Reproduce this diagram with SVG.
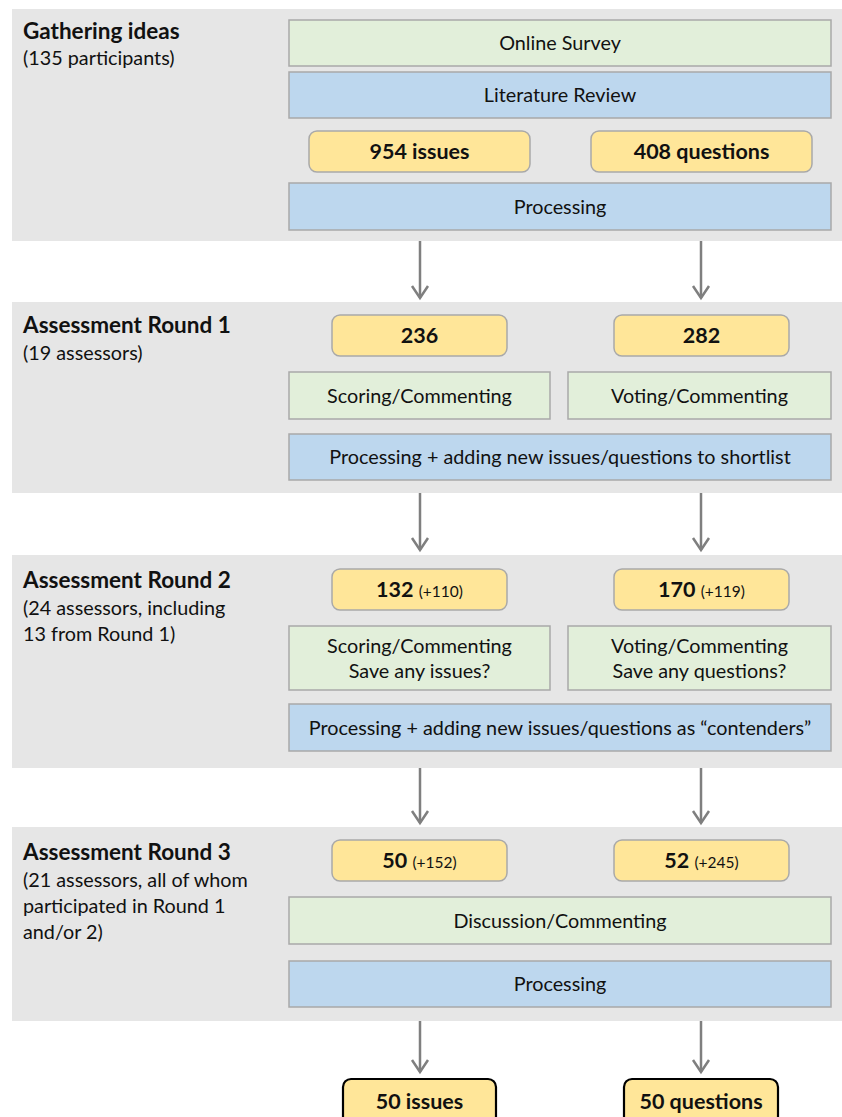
<svg xmlns="http://www.w3.org/2000/svg" width="842" height="1117" viewBox="0 0 842 1117">
<style>
.panel{fill:#e6e6e6}
.g{fill:#e2efda;stroke:#a9a9a9;stroke-width:1.5}
.b{fill:#bdd7ee;stroke:#a9a9a9;stroke-width:1.5}
.y{fill:#ffe699;stroke:#a9a9a9;stroke-width:1.5}
.f{fill:#ffe699;stroke:#000;stroke-width:2.2}
text{font-family:Lato,"Open Sans","Liberation Sans",sans-serif;fill:#111}
.t{font-size:19.8px;text-anchor:middle}
.n{font-size:21.5px;font-weight:bold;text-anchor:middle}
.s{font-size:15.5px;font-weight:normal}
.h{font-size:22.5px;font-weight:bold}
.l{font-size:19.8px}
.conn line{stroke:#7f7f7f;stroke-width:2.5;fill:none}
</style>
<defs>
<marker id="arr" markerUnits="userSpaceOnUse" markerWidth="20" markerHeight="20" refX="13" refY="10" orient="auto" viewBox="0 0 20 20">
<path d="M1,2 L13,10 L1,18" fill="none" stroke="#7f7f7f" stroke-width="2.5"/>
</marker>
</defs>

<g id="panel1">
<rect class="panel" x="12" y="9" width="830" height="232"/>
<text class="h" x="23" y="39">Gathering ideas</text>
<text class="l" x="23" y="65">(135 participants)</text>
</g>
<g id="online-survey"><rect class="g" x="289" y="20" width="542" height="46"/><text class="t" x="560" y="50">Online Survey</text></g>
<g id="literature-review"><rect class="b" x="289" y="72" width="542" height="46"/><text class="t" x="560" y="102">Literature Review</text></g>
<g id="issues-954"><rect class="y" x="309" y="131" width="221" height="41" rx="8"/><text class="n" x="419.5" y="159">954 issues</text></g>
<g id="questions-408"><rect class="y" x="591" y="131" width="221" height="41" rx="8"/><text class="n" x="701.5" y="159">408 questions</text></g>
<g id="processing1"><rect class="b" x="289" y="183" width="542" height="47"/><text class="t" x="560" y="213.5">Processing</text></g>

<g id="panel2">
<rect class="panel" x="12" y="302" width="830" height="191"/>
<text class="h" x="23" y="333">Assessment Round 1</text>
<text class="l" x="23" y="360">(19 assessors)</text>
</g>
<g id="n236"><rect class="y" x="332" y="315" width="175" height="41" rx="8"/><text class="n" x="419.5" y="343">236</text></g>
<g id="n282"><rect class="y" x="614" y="315" width="175" height="41" rx="8"/><text class="n" x="701.5" y="343">282</text></g>
<g id="scoring1"><rect class="g" x="289" y="372" width="261" height="47"/><text class="t" x="419.5" y="402.5">Scoring/Commenting</text></g>
<g id="voting1"><rect class="g" x="568" y="372" width="263" height="47"/><text class="t" x="699.5" y="402.5">Voting/Commenting</text></g>
<g id="processing2"><rect class="b" x="289" y="434" width="542" height="46"/><text class="t" x="560" y="464">Processing + adding new issues/questions to shortlist</text></g>

<g id="panel3">
<rect class="panel" x="12" y="555" width="830" height="213"/>
<text class="h" x="23" y="588">Assessment Round 2</text>
<text class="l" x="23" y="615">(24 assessors, including</text>
<text class="l" x="23" y="641">13 from Round 1)</text>
</g>
<g id="n132"><rect class="y" x="332" y="569" width="175" height="41" rx="8"/><text class="n" x="419.5" y="596.5">132 <tspan class="s">(+110)</tspan></text></g>
<g id="n170"><rect class="y" x="614" y="569" width="175" height="41" rx="8"/><text class="n" x="701.5" y="596.5">170 <tspan class="s">(+119)</tspan></text></g>
<g id="scoring2"><rect class="g" x="289" y="626" width="261" height="64"/><text class="t" x="419.5" y="653">Scoring/Commenting</text><text class="t" x="419.5" y="678">Save any issues?</text></g>
<g id="voting2"><rect class="g" x="568" y="626" width="263" height="64"/><text class="t" x="699.5" y="653">Voting/Commenting</text><text class="t" x="699.5" y="678">Save any questions?</text></g>
<g id="processing3"><rect class="b" x="289" y="704" width="542" height="47"/><text class="t" x="560" y="734.5">Processing + adding new issues/questions as “contenders”</text></g>

<g id="panel4">
<rect class="panel" x="12" y="827" width="830" height="194"/>
<text class="h" x="23" y="860">Assessment Round 3</text>
<text class="l" x="23" y="887">(21 assessors, all of whom</text>
<text class="l" x="23" y="913">participated in Round 1</text>
<text class="l" x="23" y="939">and/or 2)</text>
</g>
<g id="n50"><rect class="y" x="332" y="840" width="175" height="41" rx="8"/><text class="n" x="419.5" y="868">50 <tspan class="s">(+152)</tspan></text></g>
<g id="n52"><rect class="y" x="614" y="840" width="175" height="41" rx="8"/><text class="n" x="701.5" y="868">52 <tspan class="s">(+245)</tspan></text></g>
<g id="discussion"><rect class="g" x="289" y="897" width="542" height="47"/><text class="t" x="560" y="927.5">Discussion/Commenting</text></g>
<g id="processing4"><rect class="b" x="289" y="961" width="542" height="46"/><text class="t" x="560" y="991">Processing</text></g>

<g id="final-issues"><rect class="f" x="343" y="1079" width="153" height="50" rx="8"/><text class="n" x="419.5" y="1109">50 issues</text></g>
<g id="final-questions"><rect class="f" x="624" y="1079" width="154" height="50" rx="8"/><text class="n" x="701" y="1109">50 questions</text></g>

<g id="connectors" class="conn">
<line x1="420" y1="241" x2="420" y2="298" marker-end="url(#arr)"/>
<line x1="701" y1="241" x2="701" y2="298" marker-end="url(#arr)"/>
<line x1="420" y1="493" x2="420" y2="550" marker-end="url(#arr)"/>
<line x1="701" y1="493" x2="701" y2="550" marker-end="url(#arr)"/>
<line x1="420" y1="768" x2="420" y2="823" marker-end="url(#arr)"/>
<line x1="701" y1="768" x2="701" y2="823" marker-end="url(#arr)"/>
<line x1="420" y1="1021" x2="420" y2="1072" marker-end="url(#arr)"/>
<line x1="701" y1="1021" x2="701" y2="1072" marker-end="url(#arr)"/>
</g>
</svg>
